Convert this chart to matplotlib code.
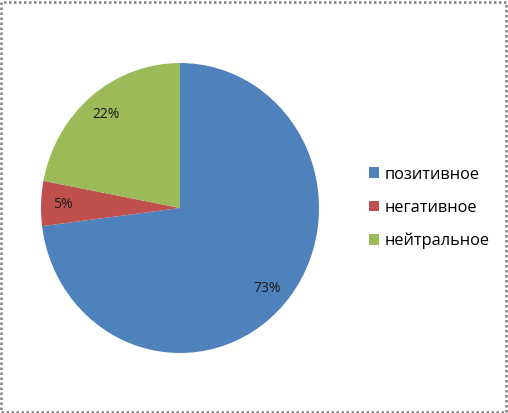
import matplotlib
matplotlib.use("Agg")
import matplotlib.pyplot as plt
from matplotlib.patches import Rectangle, Patch

categories = ["позитивное", "негативное", "нейтральное"]
values = [73, 5, 22]
colors = ["#4F81BD", "#C0504D", "#9BBB59"]

plt.rcParams['font.family'] = ['Open Sans', 'DejaVu Sans']

W, H = 508, 413
fig = plt.figure(figsize=(W/100, H/100), dpi=100)
ax = fig.add_axes([41/W, (H-353)/H, 278/W, 290/H])
wedges, texts, autotexts = ax.pie(values, colors=colors, startangle=90, counterclock=False,
                                  autopct=lambda p: f"{p:.0f}%", pctdistance=0.84,
                                  textprops={'fontsize': 10, 'color': '#1a1a1a'},
                                  wedgeprops={'linewidth': 0})
ax.set_aspect('auto')
ax.set_xlim(-1, 1)
ax.set_ylim(-1, 1)
ax.axis('off')

handles = [Patch(facecolor=c, edgecolor='none') for c in colors]
fig.legend(handles, categories, loc='center left', bbox_to_anchor=(362/W, 1-208/H),
           frameon=False, fontsize=11.8, handlelength=0.65, handleheight=0.65,
           handletextpad=0.3, labelspacing=1.05, borderaxespad=0)

fig.patches.append(Rectangle((1/W, 1/H), (W-3)/W, (H-3)/H, transform=fig.transFigure,
                             fill=False, edgecolor='#808080', linewidth=1.8,
                             linestyle=(0, (1, 1))))
fig.savefig("out.png", dpi=100)
